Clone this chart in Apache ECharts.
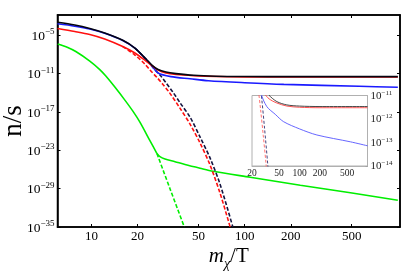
<!DOCTYPE html>
<html><head><meta charset="utf-8">
<script src="https://cdn.jsdelivr.net/npm/echarts@6/dist/echarts.min.js"></script>
<style>html,body{margin:0;padding:0;background:#fff}#c{width:402px;height:273px}</style>
</head><body><div id="c"></div>
<script>
// tick labels
const xTicks = [10, 20, 50, 100, 200, 500];
const yTicks = [1e-35, 1e-29, 1e-23, 1e-17, 1e-11, 1e-5];
const insetXTicks = [20, 50, 100, 200, 500];
const insetYTicks = [1e-14, 1e-13, 1e-12, 1e-11];

// series: m/T values and n/s values
const mBlack = [6, 7.78, 9.75, 12.2, 16.0, 19.2, 22.7, 24.8, 27.2, 30.6, 35.6, 46.4, 65, 100, 200, 1000];
const nBlack = [1.10e-3, 4.07e-4, 1.17e-4, 2.29e-5, 1.66e-6, 1.02e-7, 1.95e-9, 2.19e-10, 4.37e-11, 1.78e-11, 1.02e-11, 5.50e-12, 3.98e-12, 3.55e-12, 3.39e-12, 3.39e-12];

const mBlue = [6, 7.78, 9.75, 12.2, 16.0, 19.2, 22.7, 24.8, 27.2, 33, 44, 58, 100, 180, 560, 1000];
const nBlue = [6.31e-4, 2.69e-4, 9.77e-5, 2.04e-5, 1.55e-6, 9.55e-8, 1.74e-9, 1.66e-10, 1.26e-11, 3.39e-12, 1.58e-12, 7.76e-13, 3.80e-13, 2.09e-13, 1.07e-13, 7.24e-14];

const mRed = [6, 7.78, 9.75, 12.2, 16.0, 19.2, 22.7, 24.8, 27.2, 30.6, 35.6, 46.4, 65, 100, 200, 1000];
const nRed = [1.17e-4, 3.98e-5, 1.35e-5, 2.63e-6, 1.74e-7, 1.70e-8, 9.33e-10, 1.86e-10, 3.63e-11, 1.23e-11, 7.24e-12, 4.79e-12, 3.55e-12, 3.16e-12, 3.02e-12, 3.02e-12];

const mRedDashed = [16.0, 19.2, 22.3, 24.1, 26.8, 29.3, 32.2, 37.8, 44.0, 51.2, 59.5, 69.1, 80.4];
const nRedDashed = [1.74e-7, 8.13e-9, 3.16e-10, 3.63e-11, 2.45e-12, 1.95e-13, 1.17e-14, 3.98e-17, 1.26e-19, 1.32e-22, 4.68e-26, 1.91e-30, 1e-35];

const mNavyDashed = [19.2, 22.7, 23.4, 25.2, 28.0, 30.6, 34.0, 37.8, 44.0, 51.2, 59.5, 69.1, 83.7];
const nNavyDashed = [1.02e-7, 1.95e-9, 7.76e-10, 8.91e-11, 6.03e-12, 3.98e-13, 1.29e-14, 2.95e-16, 1.55e-18, 1.15e-21, 5.89e-25, 4.90e-29, 1e-35];

// green solid: steep part up to the kink, then the slow tail
const mGreenHigh = [6.02, 7.0, 7.9, 9.75, 11.33, 12.41, 14.21, 16.52, 18.63, 20.71, 24.07, 26.75];
const nGreenHigh = [4.37e-7, 1.23e-7, 2.88e-8, 9.33e-10, 4.37e-11, 4.17e-12, 7.94e-14, 7.24e-16, 1.35e-17, 2.57e-19, 3.24e-22, 3.16e-24];
const mGreenTail = [26.75, 27.99, 30.18, 35.1, 40.79, 51.15, 62.2, 108.6, 230.8, 490.2, 1000];
const nGreenTail = [3.16e-24, 1.0e-24, 4.37e-25, 1.66e-25, 6.03e-26, 1.58e-26, 5.37e-27, 6.17e-28, 3.47e-29, 2.29e-30, 1.51e-31];

const mGreenDashed = [26.75, 32.54, 40.36];
const nGreenDashed = [3.16e-24, 1.0e-29, 1e-35];

const zip = (a, b) => a.map((v, i) => [v, b[i]]);
const SERIF = '"Liberation Serif", "DejaVu Serif", serif';

function supLabel(v) {
  const e = Math.round(Math.log10(v));
  return '{b|10}{e|\u2212' + Math.abs(e) + '}';
}
function supRich(big, small, raise, color) {
  return {
    b: { fontFamily: SERIF, fontSize: big, color: color, verticalAlign: 'bottom' },
    e: { fontFamily: SERIF, fontSize: small, color: color, verticalAlign: 'bottom', padding: [0, 0, raise, 0] }
  };
}

const chart = echarts.init(document.getElementById('c'), null, { renderer: 'canvas' });

const mainLine = (data, color, dashed, smooth) => ({
  type: 'line', data: data, showSymbol: false, symbol: 'none', animation: false,
  xAxisIndex: 0, yAxisIndex: 0, smooth: smooth === undefined ? 0.3 : smooth,
  lineStyle: { color: color, width: 1.6, type: dashed ? [4, 2] : 'solid' }
});
const insetLine = (data, color, dashed) => ({
  type: 'line', data: data, showSymbol: false, symbol: 'none', animation: false,
  xAxisIndex: 2, yAxisIndex: 2, z: 5, smooth: 0.3,
  lineStyle: { color: color, width: 0.9, type: dashed ? [3, 2] : 'solid' }
});

const tickStyle = (cv) => ({ show: true, inside: true, length: 3, customValues: cv, lineStyle: { color: '#000', width: 1 } });

chart.setOption({
  animation: false,
  backgroundColor: '#fff',
  grid: [
    { left: 57.5, right: 2, top: 15, bottom: 46, show: true, borderColor: '#000', borderWidth: 1.5, backgroundColor: 'transparent', outerBoundsMode: 'none', containLabel: false },
    { left: 252, right: 34.5, top: 95.5, bottom: 107, show: true, borderColor: '#b0b0b0', borderWidth: 1, backgroundColor: '#fff', z: 4, outerBoundsMode: 'none', containLabel: false }
  ],
  xAxis: [
    { type: 'log', gridIndex: 0, min: 6, max: 1033, position: 'bottom',
      axisLine: { show: true, onZero: false, lineStyle: { color: '#000', width: 1.5 } },
      axisTick: tickStyle(xTicks),
      axisLabel: { customValues: xTicks, fontFamily: SERIF, fontSize: 13, color: '#000', margin: 3 },
      splitLine: { show: false }, minorTick: { show: false },
      name: '{i|m}{s|\u03c7}{n|/T}', nameLocation: 'middle', nameGap: 19, nameMoveOverlap: false,
      nameTextStyle: { rich: {
        i: { fontFamily: SERIF, fontStyle: 'italic', fontSize: 21, color: '#000', verticalAlign: 'bottom', padding: [0, 0, 4, 0] },
        s: { fontFamily: SERIF, fontStyle: 'italic', fontSize: 14, color: '#000', verticalAlign: 'bottom' },
        n: { fontFamily: SERIF, fontSize: 21, color: '#000', verticalAlign: 'bottom', padding: [0, 0, 4, 0] }
      } } },
    { type: 'log', gridIndex: 0, min: 6, max: 1033, position: 'top',
      axisLine: { show: true, onZero: false, lineStyle: { color: '#000', width: 1.5 } },
      axisTick: tickStyle(xTicks), axisLabel: { show: false }, splitLine: { show: false } },
    { type: 'log', gridIndex: 1, min: 20, max: 1000, position: 'bottom',
      axisLine: { show: true, onZero: false, lineStyle: { color: '#b0b0b0', width: 1 } },
      axisTick: { show: true, inside: true, length: 2, customValues: insetXTicks, lineStyle: { color: '#888', width: 0.8 } },
      axisLabel: { customValues: insetXTicks, fontFamily: SERIF, fontSize: 9.5, color: '#222', margin: 2 },
      splitLine: { show: false } }
  ],
  yAxis: [
    { type: 'log', gridIndex: 0, min: 1e-35, max: 0.0151, position: 'left',
      axisLine: { show: true, onZero: false, lineStyle: { color: '#000', width: 1.5 } },
      axisTick: tickStyle(yTicks),
      axisLabel: { customValues: yTicks, margin: 3, formatter: (v) => supLabel(v), rich: supRich(13.5, 9, 7, '#000') },
      splitLine: { show: false },
      name: 'n/s', nameLocation: 'middle', nameRotate: 90, nameGap: 30, nameMoveOverlap: false,
      nameTextStyle: { fontFamily: SERIF, fontSize: 27, color: '#000' } },
    { type: 'log', gridIndex: 0, min: 1e-35, max: 0.0151, position: 'right',
      axisLine: { show: true, onZero: false, lineStyle: { color: '#000', width: 1.5 } },
      axisTick: tickStyle(yTicks), axisLabel: { show: false }, splitLine: { show: false } },
    { type: 'log', gridIndex: 1, min: 1e-14, max: 1e-11, position: 'right',
      axisLine: { show: true, onZero: false, lineStyle: { color: '#b0b0b0', width: 1 } },
      axisTick: { show: true, inside: true, length: 2, customValues: insetYTicks, lineStyle: { color: '#888', width: 0.8 } },
      axisLabel: { customValues: insetYTicks, margin: 3, formatter: (v) => supLabel(v), rich: supRich(11, 7, 5, '#222') },
      splitLine: { show: false } }
  ],
  series: [
    mainLine(zip(mGreenHigh, nGreenHigh), '#00ee00'),
    mainLine(zip(mGreenTail, nGreenTail), '#00ee00'),
    mainLine(zip(mGreenDashed, nGreenDashed), '#00ee00', true),
    mainLine(zip(mRedDashed, nRedDashed), '#ff1010', true),
    mainLine(zip(mNavyDashed, nNavyDashed), '#141440', true),
    mainLine(zip(mBlue, nBlue), '#1a1aff'),
    mainLine(zip(mRed, nRed), '#ff1010'),
    mainLine(zip(mBlack, nBlack), '#050510'),
    insetLine(zip(mRedDashed, nRedDashed), '#ff6060', true),
    insetLine(zip(mNavyDashed, nNavyDashed), '#303070', true),
    insetLine(zip(mBlue, nBlue), '#5555ff'),
    insetLine(zip(mRed, nRed), '#ff4040'),
    insetLine(zip(mBlack, nBlack), '#333333')
  ]
});
</script>
</body></html>
